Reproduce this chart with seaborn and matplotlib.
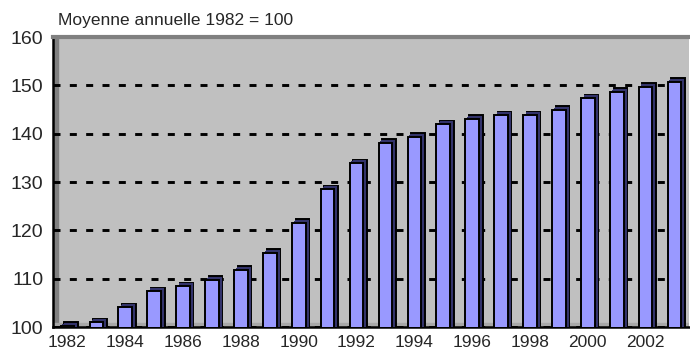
import matplotlib
matplotlib.use("Agg")
import matplotlib.pyplot as plt
import matplotlib.patheffects as pe
from matplotlib.patches import Rectangle
import seaborn as sns
import pandas as pd

# Indice, moyenne annuelle 1982 = 100
years = [str(y) for y in range(1982, 2004)]
values = [100.2, 101.0, 104.1, 107.4, 108.4, 109.8, 111.8, 115.4, 121.5, 128.5,
          133.9, 138.1, 139.4, 141.9, 143.1, 143.8, 143.8, 144.9, 147.3, 148.6,
          149.7, 150.7]
label_years = [y if int(y) % 2 == 0 else "" for y in years]
y_ticks = [100, 110, 120, 130, 140, 150, 160]

df = pd.DataFrame({"annee": years, "indice": values})

sns.set_style("white")
plt.rcParams["font.family"] = ["Liberation Sans", "DejaVu Sans"]

fig, ax = plt.subplots(figsize=(6.9, 3.54), dpi=100)
fig.subplots_adjust(left=53 / 690, right=689 / 690, bottom=1 - 327 / 354, top=1 - 37 / 354)
ax.set_facecolor("#C0C0C0")

sns.barplot(data=df, x="annee", y="indice", color="#9999FF", saturation=1,
            width=0.47, edgecolor="black", linewidth=1.4, ax=ax, zorder=3)

# effet 3D des barres
depth = [pe.SimplePatchShadow(offset=(2.6, 2.6), shadow_rgbFace="#33336B", alpha=1,
                              foreground="black", linewidth=1.4)]
depth += [pe.SimplePatchShadow(offset=(d, d), shadow_rgbFace="#33336B", alpha=1)
          for d in (0.6, 1.2, 1.8, 2.2)]
depth += [pe.Normal()]
for p in ax.patches:
    p.set_path_effects(depth)

ax.set_ylim(100, 160)
ax.set_xlim(-0.5, len(years) - 0.5)
ax.set_yticks(y_ticks)
ax.set_xticks(range(len(years)))
ax.set_xticklabels(label_years)
ax.set_xticks([i - 0.5 for i in range(len(years) + 1)], minor=True)
ax.tick_params(axis="x", which="major", length=0, pad=6, labelsize=12.5)
ax.tick_params(axis="x", which="minor", length=5, width=1.4, direction="out", color="black")
ax.tick_params(axis="y", length=5, width=1.4, direction="out", color="black", pad=2, labelsize=14)
ax.set_xlabel("")
ax.set_ylabel("")

ax.set_axisbelow(True)
ax.grid(axis="y", color="black", linestyle=(0, (2.4, 3.2)), linewidth=2.1)
ax.grid(axis="x", visible=False)
top_line = ax.yaxis.get_gridlines()[-1]
top_line.set_color("#404040")
top_line.set_linewidth(1.4)
top_line.set_clip_on(False)
top_line.set_zorder(5)

ax.spines["right"].set_visible(False)
ax.spines["top"].set_color("#808080")
ax.spines["top"].set_linewidth(3)
ax.spines["left"].set_color("black")
ax.spines["left"].set_linewidth(1.8)
ax.spines["bottom"].set_color("black")
ax.spines["bottom"].set_linewidth(1.8)

# paroi gauche et plancher
ax.add_patch(Rectangle((0, 0), 5 / 636, 1, transform=ax.transAxes, color="#808080", zorder=0.5))
ax.add_patch(Rectangle((0, 0), 1, 4 / 290, transform=ax.transAxes, color="#A8A8A8", zorder=0.5))

fig.text(58 / 690, 1 - 25 / 354, "Moyenne annuelle 1982 = 100", fontsize=12.5, va="baseline")

fig.savefig("out.png", dpi=100)
